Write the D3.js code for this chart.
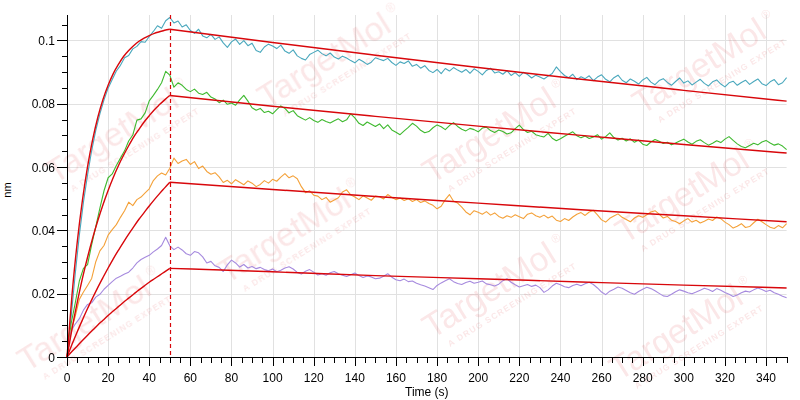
<!DOCTYPE html>
<html><head><meta charset="utf-8">
<script src="https://cdn.jsdelivr.net/npm/d3@7"></script>
<style>
html,body{margin:0;padding:0;background:#fff;}
svg{display:block;font-family:"Liberation Sans",Arial,sans-serif;}
</style></head>
<body><svg id="chart" width="800" height="400"></svg>
<script>
// ---------- data ----------
const xTicks = [0,20,40,60,80,100,120,140,160,180,200,220,240,260,280,300,320,340];
const yTicks = [0,0.02,0.04,0.06,0.08,0.1];
const yTickLabels = ["0","0.02","0.04","0.06","0.08","0.1"];
const xLabel = "Time (s)";
const yLabel = "nm";
const sampleStep = 2;            // seconds between trace samples
const times = d3.range(0, 351, sampleStep);
const dissocStart = 50;

const cyanTrace = [0,0.0125,0.0262,0.0385,0.0489,0.0575,0.0652,0.0716,0.0768,0.0812,0.0849,0.0876,0.0903,0.0921,0.0945,0.0952,0.0973,0.0981,0.0996,0.0994,0.1012,0.1028,0.1046,0.1038,0.1062,0.1072,
0.1055,0.1061,0.1042,0.1049,0.1031,0.1022,0.1035,0.1014,0.1008,0.1019,
0.1003,0.1011,0.0992,0.0978,0.0995,0.1004,0.0987,0.0999,0.0983,0.0991,
0.0968,0.0962,0.0979,0.0988,0.0982,0.0974,0.0985,0.0966,0.0959,0.0970,
0.0951,0.0943,0.0938,0.0955,0.0962,0.0969,0.0958,0.0951,0.0960,0.0947,
0.0941,0.0950,0.0944,0.0936,0.0929,0.0940,0.0933,0.0924,0.0931,0.0945,
0.0940,0.0936,0.0943,0.0930,0.0921,0.0932,0.0927,0.0935,0.0918,0.0924,
0.0912,0.0920,0.0905,0.0898,0.0908,0.0895,0.0911,0.0903,0.0914,0.0906,
0.0899,0.0908,0.0896,0.0910,0.0902,0.0891,0.0905,0.0912,0.0897,0.0901,
0.0893,0.0904,0.0889,0.0898,0.0886,0.0899,0.0892,0.0881,0.0890,0.0884,
0.0878,0.0887,0.0895,0.0916,0.0901,0.0889,0.0882,0.0893,0.0876,0.0885,
0.0879,0.0888,0.0873,0.0884,0.0891,0.0877,0.0869,0.0882,0.0890,0.0874,
0.0866,0.0878,0.0871,0.0862,0.0875,0.0883,0.0868,0.0860,0.0873,0.0879,
0.0867,0.0858,0.0870,0.0881,0.0865,0.0872,0.0859,0.0868,0.0877,0.0864,
0.0856,0.0869,0.0875,0.0862,0.0853,0.0866,0.0871,0.0858,0.0867,0.0874,
0.0861,0.0870,0.0878,0.0863,0.0857,0.0869,0.0876,0.0860,0.0866,0.0882];

const greenTrace = [0,0.0105,0.0170,0.0240,0.0280,0.0292,0.0355,0.0412,0.0470,0.0525,0.0566,0.0578,0.0605,0.0628,0.0651,0.0682,0.0701,0.0748,0.0752,0.0771,0.0809,0.0826,0.0845,0.0866,0.0902,0.0890,
0.0852,0.0866,0.0858,0.0845,0.0838,0.0846,0.0833,0.0829,0.0836,0.0821,
0.0815,0.0803,0.0811,0.0798,0.0802,0.0795,0.0812,0.0826,0.0808,0.0787,
0.0779,0.0785,0.0772,0.0776,0.0768,0.0781,0.0793,0.0785,0.0771,0.0778,
0.0762,0.0755,0.0748,0.0756,0.0747,0.0741,0.0750,0.0744,0.0739,0.0746,
0.0752,0.0743,0.0749,0.0768,0.0755,0.0738,0.0731,0.0742,0.0735,0.0728,
0.0736,0.0721,0.0733,0.0717,0.0710,0.0702,0.0714,0.0725,0.0738,0.0729,
0.0716,0.0708,0.0712,0.0724,0.0733,0.0727,0.0718,0.0731,0.0740,0.0728,
0.0719,0.0714,0.0722,0.0718,0.0711,0.0723,0.0726,0.0715,0.0709,0.0717,
0.0712,0.0704,0.0708,0.0721,0.0732,0.0718,0.0709,0.0713,0.0702,0.0698,
0.0695,0.0706,0.0691,0.0683,0.0689,0.0697,0.0704,0.0711,0.0699,0.0692,
0.0698,0.0690,0.0695,0.0702,0.0688,0.0696,0.0708,0.0693,0.0685,0.0691,
0.0682,0.0689,0.0678,0.0685,0.0672,0.0668,0.0679,0.0687,0.0681,0.0674,
0.0678,0.0670,0.0676,0.0682,0.0688,0.0679,0.0672,0.0681,0.0686,0.0677,
0.0669,0.0675,0.0683,0.0677,0.0688,0.0696,0.0684,0.0673,0.0665,0.0661,
0.0668,0.0675,0.0670,0.0679,0.0684,0.0676,0.0669,0.0673,0.0666,0.0655];

const orangeTrace = [0,0.0085,0.0128,0.0182,0.0205,0.0226,0.0248,0.0301,0.0335,0.0352,0.0385,0.0402,0.0418,0.0441,0.0462,0.0489,0.0478,0.0497,0.0505,0.0518,0.0531,0.0557,0.0572,0.0581,0.0575,0.0596,
0.0628,0.0611,0.0619,0.0624,0.0608,0.0617,0.0595,0.0603,0.0586,0.0577,
0.0582,0.0569,0.0551,0.0558,0.0547,0.0560,0.0552,0.0544,0.0556,0.0549,
0.0538,0.0545,0.0557,0.0549,0.0561,0.0555,0.0568,0.0579,0.0566,0.0572,
0.0563,0.0538,0.0519,0.0525,0.0511,0.0508,0.0497,0.0504,0.0489,0.0496,
0.0503,0.0521,0.0528,0.0512,0.0505,0.0497,0.0509,0.0502,0.0495,0.0508,
0.0506,0.0499,0.0513,0.0504,0.0497,0.0502,0.0494,0.0500,0.0491,0.0497,
0.0488,0.0493,0.0485,0.0479,0.0468,0.0476,0.0497,0.0513,0.0492,0.0486,
0.0473,0.0458,0.0449,0.0462,0.0457,0.0451,0.0459,0.0448,0.0455,0.0444,
0.0438,0.0446,0.0441,0.0449,0.0443,0.0437,0.0451,0.0455,0.0446,0.0441,
0.0448,0.0439,0.0445,0.0432,0.0428,0.0437,0.0431,0.0442,0.0451,0.0456,
0.0447,0.0458,0.0463,0.0449,0.0433,0.0426,0.0438,0.0445,0.0452,0.0441,
0.0434,0.0427,0.0439,0.0446,0.0441,0.0449,0.0458,0.0462,0.0451,0.0439,
0.0444,0.0432,0.0428,0.0421,0.0430,0.0437,0.0426,0.0432,0.0423,0.0429,
0.0436,0.0431,0.0442,0.0437,0.0426,0.0418,0.0407,0.0413,0.0421,0.0409,
0.0412,0.0424,0.0435,0.0427,0.0418,0.0410,0.0406,0.0415,0.0408,0.0421];

const purpleTrace = [0,0.0082,0.0104,0.0121,0.0148,0.0166,0.0171,0.0189,0.0198,0.0214,0.0226,0.0238,0.0249,0.0255,0.0262,0.0268,0.0281,0.0297,0.0308,0.0315,0.0321,0.0332,0.0341,0.0352,0.0378,0.0351,
0.0339,0.0347,0.0338,0.0326,0.0321,0.0333,0.0329,0.0316,0.0297,0.0302,
0.0288,0.0283,0.0270,0.0291,0.0306,0.0297,0.0284,0.0292,0.0281,0.0286,
0.0279,0.0283,0.0276,0.0272,0.0278,0.0269,0.0274,0.0281,0.0285,0.0278,
0.0267,0.0262,0.0271,0.0276,0.0268,0.0259,0.0263,0.0258,0.0266,0.0270,
0.0263,0.0258,0.0254,0.0260,0.0265,0.0257,0.0251,0.0256,0.0253,0.0247,
0.0249,0.0255,0.0263,0.0252,0.0244,0.0241,0.0246,0.0238,0.0240,0.0233,
0.0228,0.0224,0.0219,0.0213,0.0226,0.0234,0.0241,0.0247,0.0238,0.0232,
0.0229,0.0235,0.0239,0.0233,0.0236,0.0240,0.0231,0.0228,0.0224,0.0230,
0.0241,0.0247,0.0236,0.0228,0.0221,0.0225,0.0229,0.0223,0.0227,0.0219,
0.0204,0.0212,0.0224,0.0233,0.0228,0.0222,0.0219,0.0226,0.0230,0.0225,
0.0231,0.0236,0.0229,0.0218,0.0205,0.0197,0.0208,0.0214,0.0221,0.0217,
0.0210,0.0203,0.0198,0.0207,0.0214,0.0220,0.0216,0.0209,0.0201,0.0193,
0.0191,0.0198,0.0206,0.0212,0.0208,0.0203,0.0200,0.0205,0.0211,0.0217,
0.0213,0.0207,0.0216,0.0211,0.0204,0.0198,0.0191,0.0196,0.0203,0.0208,
0.0205,0.0212,0.0218,0.0213,0.0207,0.0211,0.0203,0.0198,0.0192,0.0187];

const fitTimes = [0,2.5,5,7.5,10,12.5,15,17.5,20,22.5,25,27.5,30,32.5,35,37.5,40,42.5,45,47.5,50,100,150,200,250,300,350];
const cyanFit   = [0,0.0201,0.0364,0.0495,0.0601,0.0687,0.0757,0.0813,0.0858,0.0895,0.0924,0.0949,0.0968,0.0984,0.0997,0.1007,0.1015,0.1022,0.1027,0.1032,0.1035,0.0993,0.0953,0.0914,0.0877,0.0842,0.0808];
const greenFit  = [0,0.0091,0.0173,0.0248,0.0315,0.0376,0.0431,0.0481,0.0526,0.0567,0.0604,0.0637,0.0667,0.0695,0.0719,0.0742,0.0762,0.0781,0.0797,0.0812,0.0826,0.0792,0.0760,0.0729,0.0700,0.0671,0.0644];
const orangeFit = [0,0.0041,0.0080,0.0117,0.0153,0.0187,0.0220,0.0251,0.0281,0.0310,0.0337,0.0363,0.0388,0.0412,0.0435,0.0456,0.0477,0.0497,0.0516,0.0534,0.0552,0.0529,0.0507,0.0486,0.0465,0.0446,0.0427];
const purpleFit = [0,0.0018,0.0035,0.0052,0.0069,0.0085,0.0101,0.0116,0.0131,0.0145,0.0159,0.0173,0.0186,0.0199,0.0212,0.0224,0.0236,0.0247,0.0258,0.0269,0.0280,0.0269,0.0257,0.0247,0.0237,0.0227,0.0218];

const seriesNames  = ["cyan","green","orange","purple"];
const seriesColors = ["#4aa8bd","#3fb92f","#f4a139","#a68ade"];
const traces = [cyanTrace, greenTrace, orangeTrace, purpleTrace];
const fits = [cyanFit, greenFit, orangeFit, purpleFit];
const fitColor = "#d8070b";

// watermark anchors (decorative)
const watermarkSpots = [[330,70],[290,245],[495,145],[495,300],[705,76],[688,205],[682,342],[118,145],[90,333]];

// ---------- drawing ----------
const svg = d3.select("#chart");
const L = 67, R = 786.6, T = 15, B = 357;
const x = d3.scaleLinear().domain([0,350]).range([L,R]);
const y = d3.scaleLinear().domain([0,0.108]).range([B,T]);

svg.append("rect").attr("width",800).attr("height",400).attr("fill","#fff");

// grid
const grid = svg.append("g").attr("stroke","#e1e1e1").attr("stroke-width",1);
xTicks.filter(d=>d>0).forEach(d=>{
  grid.append("line").attr("x1",Math.round(x(d))+0.5).attr("x2",Math.round(x(d))+0.5).attr("y1",T).attr("y2",B);
});
yTicks.filter(d=>d>0).forEach(d=>{
  grid.append("line").attr("x1",L).attr("x2",R).attr("y1",Math.round(y(d))+0.5).attr("y2",Math.round(y(d))+0.5);
});

// watermarks
const wm = svg.append("g").attr("opacity",0.13).attr("fill","#e0474c").style("pointer-events","none");
watermarkSpots.forEach(([cx,cy])=>{
  const g = wm.append("g").attr("transform",`translate(${cx},${cy}) rotate(-32)`);
  g.append("text").attr("text-anchor","middle").attr("font-size",34).attr("font-family","'Liberation Sans',Arial,sans-serif").text("TargetMol");
  g.append("text").attr("x",80).attr("y",-16).attr("font-size",12).text("®");
  g.append("text").attr("x",12).attr("y",16).attr("text-anchor","middle").attr("font-size",8.5).attr("font-weight","bold").attr("letter-spacing",1.2).text("A DRUG SCREENING EXPERT");
});

// traces
const traceLine = d3.line().x((d,i)=>x(times[i])).y(d=>y(d));
traces.forEach((arr,k)=>{
  svg.append("path").datum(arr).attr("fill","none").attr("stroke",seriesColors[k]).attr("stroke-width",1.1)
    .attr("stroke-linejoin","round").attr("d",traceLine);
});

// fits
fits.forEach(arr=>{
  const assoc = arr.slice(0,21), dis = arr.slice(20);
  svg.append("path").datum(assoc).attr("fill","none").attr("stroke",fitColor).attr("stroke-width",1.4)
    .attr("d",d3.line().x((d,i)=>x(fitTimes[i])).y(d=>y(d)).curve(d3.curveMonotoneX));
  svg.append("path").datum(dis).attr("fill","none").attr("stroke",fitColor).attr("stroke-width",1.4)
    .attr("d",d3.line().x((d,i)=>x(fitTimes[i+20])).y(d=>y(d)).curve(d3.curveMonotoneX));
});

// dashed vertical at start of dissociation
svg.append("line").attr("x1",Math.round(x(dissocStart))+0.5).attr("x2",Math.round(x(dissocStart))+0.5)
  .attr("y1",T).attr("y2",B).attr("stroke",fitColor).attr("stroke-width",1.2).attr("stroke-dasharray","4,3");

// axes
const axes = svg.append("g").attr("stroke","#000").attr("stroke-width",1);
axes.append("line").attr("x1",L+0.5).attr("x2",L+0.5).attr("y1",T).attr("y2",B+1);
axes.append("line").attr("x1",L).attr("x2",R+0.5).attr("y1",B+0.5).attr("y2",B+0.5);

// y ticks
const yMinor = d3.range(0,0.1051,0.005);
yMinor.forEach(v=>{
  const isMajor = yTicks.some(t=>Math.abs(t-v)<1e-9);
  const py = Math.round(y(v))+0.5;
  axes.append("line").attr("x1",L-(isMajor?10:5)).attr("x2",L).attr("y1",py).attr("y2",py);
});
yTicks.forEach((v,i)=>{
  svg.append("text").attr("x",55).attr("y",y(v)+4.5).attr("text-anchor","end").attr("font-size",12).attr("fill","#000").text(yTickLabels[i]);
});

// x ticks
const xMinor = d3.range(0,351,5);
xMinor.forEach(v=>{
  const isMajor = xTicks.includes(v);
  const px = Math.round(x(v))+0.5;
  axes.append("line").attr("x1",px).attr("x2",px).attr("y1",B).attr("y2",B+(isMajor?9:6));
});
xTicks.forEach(v=>{
  svg.append("text").attr("x",x(v)).attr("y",382).attr("text-anchor","middle").attr("font-size",12).attr("fill","#000").text(v);
});

svg.append("text").attr("x",(L+R)/2).attr("y",396).attr("text-anchor","middle").attr("font-size",12).attr("fill","#000").text(xLabel);
svg.append("text").attr("transform","translate(11,190) rotate(-90)").attr("text-anchor","middle").attr("font-size",11).attr("fill","#000").text(yLabel);
</script></body></html>
